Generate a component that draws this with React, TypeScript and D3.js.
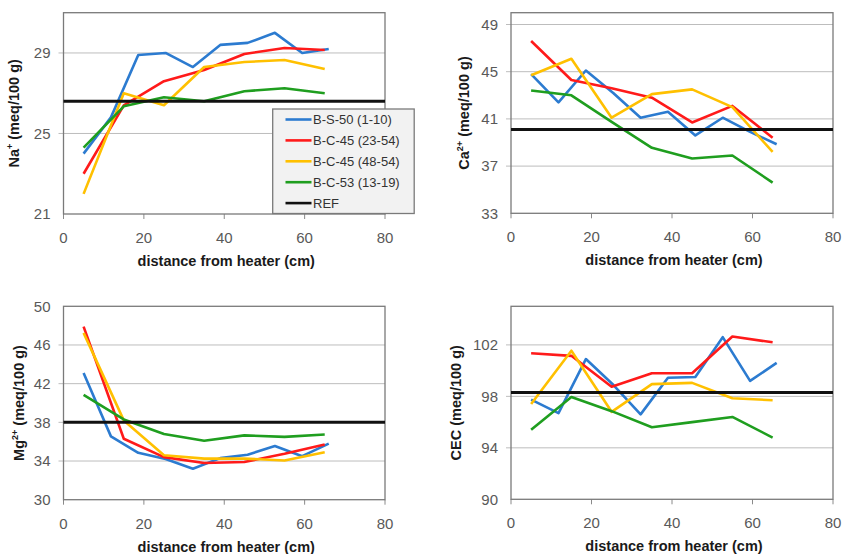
import React from 'react';
import * as d3 from 'd3';

// sample positions (cm)
const xBS50 = [5, 11.8, 18.6, 25.4, 32.2, 39, 45.8, 52.6, 59.4, 66];
const xBC = [5, 15, 25, 35, 45, 55, 65];

const seriesNames = ['B-S-50 (1-10)', 'B-C-45 (23-54)', 'B-C-45 (48-54)', 'B-C-53 (13-19)', 'REF'];
const seriesColors = ['#2c7bd0', '#ff1a1a', '#ffc000', '#1f9e1f', '#111111'];

// Na+
const naBS50 = [24.0, 25.8, 28.9, 29.0, 28.3, 29.4, 29.5, 30.0, 29.0, 29.2];
const naBC45a = [23.0, 26.4, 27.6, 28.15, 28.95, 29.25, 29.15];
const naBC45b = [22.0, 27.0, 26.4, 28.3, 28.55, 28.65, 28.2];
const naBC53 = [24.3, 26.35, 26.8, 26.6, 27.1, 27.25, 27.0];
const naRef = 26.6;
const naTicks = [21, 25, 29];

// Ca2+
const caBS50 = [44.8, 42.4, 45.1, 43.2, 41.1, 41.6, 39.6, 41.1, 39.9, 38.85];
const caBC45a = [47.6, 44.3, 43.6, 42.8, 40.7, 42.1, 39.4];
const caBC45b = [44.7, 46.1, 41.1, 43.1, 43.5, 42.0, 38.2];
const caBC53 = [43.4, 43.0, 40.75, 38.55, 37.65, 37.9, 35.6];
const caRef = 40.1;
const caTicks = [33, 37, 41, 45, 49];

// Mg2+
const mgBS50 = [43.1, 36.55, 34.85, 34.2, 33.2, 34.3, 34.65, 35.55, 34.5, 35.8];
const mgBC45a = [47.9, 36.3, 34.4, 33.8, 33.9, 34.75, 35.7];
const mgBC45b = [47.25, 38.2, 34.6, 34.25, 34.25, 34.05, 34.9];
const mgBC53 = [40.85, 38.3, 36.8, 36.1, 36.65, 36.5, 36.75];
const mgRef = 38.0;
const mgTicks = [30, 34, 38, 42, 46, 50];

// CEC
const cecBS50 = [97.75, 96.7, 100.9, 98.9, 96.6, 99.45, 99.5, 102.6, 99.2, 100.6];
const cecBC45a = [101.35, 101.15, 98.75, 99.8, 99.8, 102.65, 102.2];
const cecBC45b = [97.4, 101.55, 96.8, 98.95, 99.05, 97.85, 97.7];
const cecBC53 = [95.4, 97.95, 96.85, 95.6, 96.0, 96.4, 94.8];
const cecRef = 98.3;
const cecTicks = [90, 94, 98, 102];

const xTicks = [0, 20, 40, 60, 80];

const panels = [
  { left: 63.5, top: 12.7, right: 385, bottom: 214, yMin: 21, yMax: 31, ticks: naTicks, ion: 'Na', sup: '+', labelDx: -50,
    data: [naBS50, naBC45a, naBC45b, naBC53], ref: naRef, legend: true },
  { left: 511, top: 12.7, right: 833, bottom: 213.3, yMin: 33, yMax: 50, ticks: caTicks, ion: 'Ca', sup: '2+', labelDx: -47,
    data: [caBS50, caBC45a, caBC45b, caBC53], ref: caRef, legend: false },
  { left: 63.5, top: 306.3, right: 385, bottom: 499.7, yMin: 30, yMax: 50, ticks: mgTicks, ion: 'Mg', sup: '2+', labelDx: -45,
    data: [mgBS50, mgBC45a, mgBC45b, mgBC53], ref: mgRef, legend: false },
  { left: 511, top: 306.3, right: 833, bottom: 499.3, yMin: 90, yMax: 105, ticks: cecTicks, ion: 'CEC', sup: '', labelDx: -55,
    data: [cecBS50, cecBC45a, cecBC45b, cecBC53], ref: cecRef, legend: false },
];

const font = '"Liberation Sans", Arial, sans-serif';

function Panel({ p }: { p: any }) {
  const x = d3.scaleLinear().domain([0, 80]).range([p.left, p.right]);
  const y = d3.scaleLinear().domain([p.yMin, p.yMax]).range([p.bottom, p.top]);
  const line = d3.line<[number, number]>().x(d => x(d[0])).y(d => y(d[1]));
  const cy = (p.top + p.bottom) / 2;
  const lx = p.left + p.labelDx;
  return (
    <g>
      <rect x={p.left} y={p.top} width={p.right - p.left} height={p.bottom - p.top} fill="#fff" />
      {p.ticks.map((t: number) => (
        <g key={t}>
          {t !== p.yMin && t !== p.yMax && (
            <line x1={p.left - 5} x2={p.right} y1={y(t)} y2={y(t)} stroke="#bdbdbd" strokeWidth={1} />
          )}
          <text x={p.left - 13} y={y(t)} dy="0.35em" textAnchor="end" fontSize={15} fill="#595959" fontFamily={font}>{t}</text>
        </g>
      ))}
      {xTicks.map(t => (
        <g key={t}>
          <line x1={x(t)} x2={x(t)} y1={p.bottom} y2={p.bottom + 5} stroke="#8a8a8a" />
          <text x={x(t)} y={p.bottom + 29} textAnchor="middle" fontSize={15} fill="#595959" fontFamily={font}>{t}</text>
        </g>
      ))}
      <rect x={p.left} y={p.top} width={p.right - p.left} height={p.bottom - p.top} fill="none" stroke="#7a7a7a" strokeWidth={1.3} />
      {p.data.map((vals: number[], i: number) => {
        const xs = i === 0 ? xBS50 : xBC;
        const pts = vals.map((v, k) => [xs[k], v] as [number, number]);
        return <path key={i} d={line(pts) || ''} fill="none" stroke={seriesColors[i]} strokeWidth={2.6} strokeLinejoin="round" />;
      })}
      <line x1={p.left} x2={p.right} y1={y(p.ref)} y2={y(p.ref)} stroke={seriesColors[4]} strokeWidth={3} />
      <text x={(p.left + p.right) / 2 + 2} y={p.bottom + 52} textAnchor="middle" fontSize={14.5} fontWeight="bold" fill="#1a1a1a" fontFamily={font}>
        distance from heater (cm)
      </text>
      <text transform={`translate(${lx},${cy}) rotate(-90)`} dy="0.35em" textAnchor="middle" fontSize={14.5} fontWeight="bold" fill="#1a1a1a" fontFamily={font}>
        {p.ion}
        {p.sup && <tspan fontSize={9} dy={-6}>{p.sup}</tspan>}
        <tspan dy={p.sup ? 6 : 0}>{'  (meq/100 g)'}</tspan>
      </text>
      {p.legend && (
        <g>
          <rect x={272.7} y={109} width={141.5} height={104.5} fill="#f2f2f2" stroke="#7a7a7a" strokeWidth={1.3} />
          {seriesNames.map((n, i) => (
            <g key={n} transform={`translate(0,${119.5 + i * 20.9})`}>
              <line x1={285.5} x2={311.5} y1={0} y2={0} stroke={seriesColors[i]} strokeWidth={2.6} />
              <text x={313} y={0} dy="0.35em" fontSize={13} fill="#333" fontFamily={font}>{n}</text>
            </g>
          ))}
        </g>
      )}
    </g>
  );
}

export default function App() {
  return (
    <svg width={842} height={554} style={{ position: 'absolute', left: 0, top: 0, background: '#fff' }}>
      <rect width={842} height={554} fill="#fff" />
      {panels.map((p, i) => <Panel key={i} p={p} />)}
    </svg>
  );
}
